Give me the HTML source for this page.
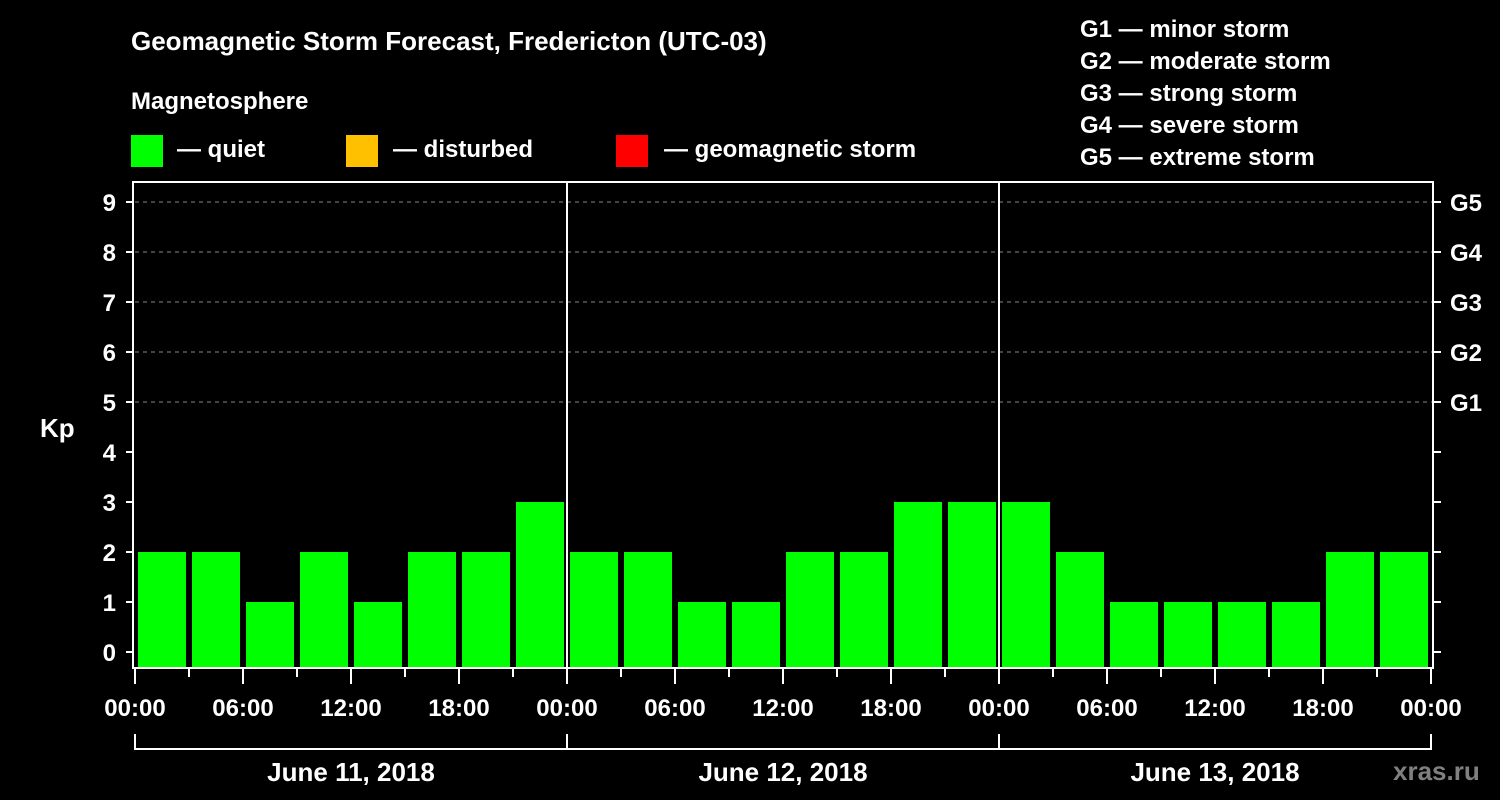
<!DOCTYPE html>
<html><head><meta charset="utf-8"><style>
html,body{margin:0;padding:0;background:#000;}
svg{display:block;font-family:"Liberation Sans",Arial,sans-serif;font-weight:bold;}
</style></head><body>
<svg id="chart" width="1500" height="800" viewBox="0 0 1500 800">
<rect x="0" y="0" width="1500" height="800" fill="#000"/>
<text x="131" y="50" fill="#fff" font-size="26">Geomagnetic Storm Forecast, Fredericton (UTC-03)</text>
<text x="131" y="109" fill="#fff" font-size="24">Magnetosphere</text>
<g><rect x="131" y="135" width="32" height="32" fill="#00ff00"/><text x="177" y="157" fill="#fff" font-size="24">— quiet</text></g>
<g><rect x="346" y="135" width="32" height="32" fill="#ffc000"/><text x="393" y="157" fill="#fff" font-size="24">— disturbed</text></g>
<g><rect x="616" y="135" width="32" height="32" fill="#ff0000"/><text x="664" y="157" fill="#fff" font-size="24">— geomagnetic storm</text></g>
<g fill="#fff" font-size="24">
<text x="1080" y="37">G1 — minor storm</text>
<text x="1080" y="69">G2 — moderate storm</text>
<text x="1080" y="101">G3 — strong storm</text>
<text x="1080" y="133">G4 — severe storm</text>
<text x="1080" y="165">G5 — extreme storm</text>
</g>
<text x="40" y="437" fill="#fff" font-size="26">Kp</text>
<g id="grid"></g>
<g id="bars"></g>
<g id="axes"></g>
<text x="1393" y="780" fill="#808080" font-size="26">xras.ru</text>
</svg>
<script>
const day1Kp = [2,2,1,2,1,2,2,3];
const day2Kp = [2,2,1,1,2,2,3,3];
const day3Kp = [3,2,1,1,1,1,2,2];
const dayLabels = ["June 11, 2018","June 12, 2018","June 13, 2018"];
const timeLabels = ["00:00","06:00","12:00","18:00"];
const yTicks = [0,1,2,3,4,5,6,7,8,9];
const gLabels = ["G1","G2","G3","G4","G5"];

const NS="http://www.w3.org/2000/svg";
const X0=135, HOUR=18, Y0=652, UNIT=50, TOP=182, BOTTOM=668, RIGHT=1433;
function xScale(h){return X0+h*HOUR;}
function yScale(v){return Y0-v*UNIT;}
function mk(tag,attrs,parent){const e=document.createElementNS(NS,tag);for(const k in attrs)e.setAttribute(k,attrs[k]);parent.appendChild(e);return e;}
function color(v){return v>=5?"#ff0000":(v>=4?"#ffc000":"#00ff00");}

const grid=document.getElementById('grid'), bars=document.getElementById('bars'), axes=document.getElementById('axes');
// grid dashed lines for Kp 5..9
for(let v=5;v<=9;v++){
  const l=mk('line',{x1:X0,x2:RIGHT,y1:yScale(v),y2:yScale(v),stroke:'#888','stroke-width':1,'stroke-dasharray':'4,4'},grid);
  
  
}
// bars
const all=[day1Kp,day2Kp,day3Kp];
all.forEach((arr,d)=>{arr.forEach((v,i)=>{
  const h=d*24+i*3;
  const x1=xScale(h)+3, x2=xScale(h+3)-3;
  const r=mk('rect',{x:x1,y:yScale(v),width:x2-x1,height:667-yScale(v),fill:color(v)},bars);
  
  
});});
// frame
mk('rect',{x:133,y:TOP,width:RIGHT-133,height:BOTTOM-TOP,fill:'none',stroke:'#fff','stroke-width':2},axes);
// day separators
[24,48].forEach(h=>{mk('line',{x1:xScale(h),x2:xScale(h),y1:TOP,y2:BOTTOM,stroke:'#fff','stroke-width':2},axes);});
// y ticks & labels
yTicks.forEach(v=>{
  const y=yScale(v);
  mk('line',{x1:126,x2:133,y1:y,y2:y,stroke:'#fff','stroke-width':2},axes);
  mk('line',{x1:RIGHT,x2:RIGHT+8,y1:y,y2:y,stroke:'#fff','stroke-width':2},axes);
  const t=mk('text',{x:116,y:y+9,fill:'#fff','font-size':24,'text-anchor':'end'},axes);
  t.textContent=v;
  
  
});
gLabels.forEach((g,i)=>{
  const t=mk('text',{x:1450,y:yScale(5+i)+9,fill:'#fff','font-size':24},axes);
  t.textContent=g;
  
  
});
// x ticks
for(let h=0;h<=72;h+=3){
  const major=h%6===0;
  mk('line',{x1:xScale(h),x2:xScale(h),y1:BOTTOM,y2:major?684:677,stroke:'#fff','stroke-width':2},axes);
}
for(let d=0;d<=3;d++){
  const n=d<3?4:1;
  for(let k=0;k<n;k++){
    const h=d*24+k*6;
    const t=mk('text',{x:xScale(h),y:716,fill:'#fff','font-size':24,'text-anchor':'middle'},axes);
    t.textContent=timeLabels[k];
    
    
  }
}
// day brackets
mk('path',{d:`M${xScale(0)},734 V749 H${xScale(72)} V734`,fill:'none',stroke:'#fff','stroke-width':2},axes);
[24,48].forEach(h=>mk('line',{x1:xScale(h),x2:xScale(h),y1:734,y2:749,stroke:'#fff','stroke-width':2},axes));
dayLabels.forEach((lab,d)=>{
  const t=mk('text',{x:xScale(d*24+12),y:781,fill:'#fff','font-size':26,'text-anchor':'middle'},axes);
  t.textContent=lab;
  
  
});
</script>
</body></html>
